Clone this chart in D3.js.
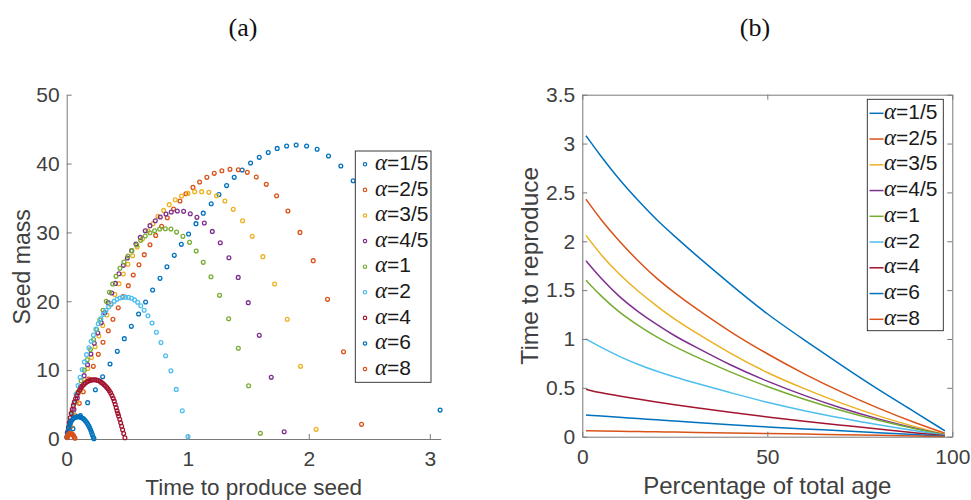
<!DOCTYPE html>
<html>
<head>
<meta charset="utf-8">
<script src="https://cdn.jsdelivr.net/npm/d3@7"></script>
<style>
body { margin: 0; background: #fff; }
svg { display: block; }
</style>
</head>
<body>
<svg id="chart" width="971" height="500"></svg>
<script>
// series labels and MATLAB default colours (order repeats after 7)
const alphaLabels = ["1/5", "2/5", "3/5", "4/5", "1", "2", "4", "6", "8"];
const seriesColors = ["#0072BD", "#D95319", "#EDB120", "#7E2F8E", "#77AC30", "#4DBEEE", "#A2142F", "#0072BD", "#D95319"];

// (a) time to produce seed vs seed mass, one list of [time, mass] per alpha
const seedA1_5 = [[0.052,1.5],[0.113,3.39],[0.173,5.28],[0.237,7.16],[0.297,9.05],[0.358,10.89],[0.418,12.73],[0.476,14.57],[0.534,16.36],[0.594,18.15],[0.652,19.89],[0.710,21.64],[0.771,23.33],[0.828,25.0],[0.889,26.67],[0.947,28.27],[1.007,29.77],[1.068,31.27],[1.128,32.8],[1.194,34.17],[1.258,35.5],[1.321,36.8],[1.384,38.0],[1.450,39.07],[1.519,40.08],[1.591,40.9],[1.665,41.6],[1.739,42.2],[1.817,42.55],[1.896,42.7],[1.982,42.55],[2.069,42.07],[2.163,41.1],[2.265,39.65],[2.367,37.5],[3.085,4.2]];
const seedA2_5 = [[0.005,0.3],[0.033,1.8],[0.069,3.39],[0.104,5.18],[0.137,6.87],[0.181,8.71],[0.220,10.55],[0.261,12.29],[0.300,14.04],[0.344,15.73],[0.382,17.38],[0.426,19.07],[0.465,20.7],[0.509,22.27],[0.550,23.81],[0.597,25.31],[0.641,26.77],[0.688,28.22],[0.735,29.57],[0.784,30.88],[0.831,32.14],[0.883,33.4],[0.936,34.56],[0.985,35.62],[1.043,36.54],[1.098,37.32],[1.158,38.0],[1.219,38.58],[1.282,38.96],[1.349,39.16],[1.418,39.11],[1.492,38.72],[1.566,38.04],[1.649,36.98],[1.734,35.33],[1.828,33.1],[1.927,30.0],[2.037,25.9],[2.155,20.28],[2.287,12.68],[2.436,2.13]];
const seedA3_5 = [[0.003,0.35],[0.029,2.05],[0.057,3.75],[0.086,5.4],[0.115,7.05],[0.144,8.65],[0.174,10.25],[0.204,11.85],[0.235,13.4],[0.266,14.95],[0.298,16.5],[0.331,18.0],[0.364,19.5],[0.398,21.0],[0.432,22.56],[0.468,23.96],[0.506,25.36],[0.545,26.62],[0.583,27.88],[0.627,29.09],[0.671,30.25],[0.713,31.27],[0.754,32.33],[0.801,33.2],[0.847,34.03],[0.897,34.75],[0.949,35.28],[1.002,35.67],[1.057,35.92],[1.115,35.92],[1.175,35.82],[1.238,35.33],[1.307,34.56],[1.376,33.35],[1.453,31.7],[1.533,29.43],[1.621,26.48],[1.718,22.5],[1.822,17.38],[1.932,10.55],[2.061,1.4]];
const seedA4_5 = [[0.005,0.9],[0.032,2.6],[0.060,4.3],[0.088,5.95],[0.116,7.6],[0.144,9.2],[0.172,10.8],[0.200,12.35],[0.228,13.9],[0.257,15.4],[0.285,16.9],[0.314,18.35],[0.343,19.8],[0.372,21.2],[0.402,22.6],[0.432,24.0],[0.468,25.22],[0.501,26.28],[0.536,27.35],[0.572,28.32],[0.608,29.28],[0.649,30.25],[0.688,30.98],[0.732,31.7],[0.773,32.24],[0.820,32.67],[0.864,32.96],[0.914,33.11],[0.966,33.06],[1.021,32.72],[1.076,32.19],[1.137,31.37],[1.203,30.15],[1.269,28.5],[1.340,26.33],[1.417,23.47],[1.500,19.8],[1.591,15.05],[1.690,8.95],[1.797,1.06]];
const seedA1 = [[0.018,1.9],[0.043,3.6],[0.068,5.25],[0.094,6.85],[0.119,8.45],[0.145,10.0],[0.170,11.5],[0.196,13.0],[0.222,14.45],[0.248,15.9],[0.274,17.3],[0.300,18.7],[0.327,20.0],[0.353,21.3],[0.380,22.5],[0.407,23.62],[0.440,24.78],[0.473,25.7],[0.506,26.57],[0.539,27.35],[0.578,28.17],[0.611,28.85],[0.649,29.48],[0.688,29.96],[0.726,30.25],[0.768,30.49],[0.815,30.54],[0.861,30.49],[0.908,30.05],[0.960,29.43],[1.015,28.56],[1.070,27.3],[1.128,25.65],[1.192,23.57],[1.263,20.86],[1.338,17.47],[1.418,13.17],[1.503,7.74],[1.600,0.82]];
const seedA2 = [[0.015,1.0],[0.030,2.45],[0.045,3.85],[0.061,5.2],[0.077,6.5],[0.094,7.75],[0.111,8.95],[0.128,10.1],[0.146,11.2],[0.164,12.25],[0.183,13.25],[0.202,14.2],[0.221,15.1],[0.241,15.95],[0.261,16.75],[0.282,17.45],[0.303,18.1],[0.325,18.7],[0.347,19.2],[0.369,19.65],[0.392,20.0],[0.415,20.28],[0.439,20.47],[0.463,20.57],[0.487,20.6],[0.511,20.57],[0.536,20.45],[0.561,20.2],[0.586,19.85],[0.612,19.35],[0.640,18.7],[0.671,17.9],[0.705,16.85],[0.741,15.5],[0.779,14.0],[0.817,12.1],[0.861,9.9],[0.905,7.2],[0.955,4.1],[1.002,0.34]];
const seedA4 = [[0.002,0.3],[0.007,0.92],[0.014,1.68],[0.021,2.4],[0.029,3.08],[0.037,3.72],[0.046,4.32],[0.055,4.88],[0.064,5.4],[0.074,5.88],[0.084,6.32],[0.095,6.72],[0.106,7.08],[0.117,7.4],[0.129,7.68],[0.141,7.92],[0.154,8.12],[0.167,8.3],[0.180,8.42],[0.193,8.52],[0.207,8.58],[0.220,8.6],[0.234,8.6],[0.248,8.55],[0.261,8.5],[0.274,8.38],[0.286,8.22],[0.297,8.1],[0.308,7.92],[0.319,7.72],[0.330,7.5],[0.341,7.3],[0.352,7.0],[0.363,6.7],[0.374,6.3],[0.384,5.9],[0.393,5.5],[0.401,5.03],[0.409,4.55],[0.416,4.1],[0.423,3.7],[0.429,3.34],[0.438,2.85],[0.446,2.37],[0.454,1.85],[0.462,1.35],[0.471,0.8],[0.481,0.19]];
const seedA6 = [[0.002,0.25],[0.006,0.75],[0.011,1.2],[0.017,1.62],[0.023,2.0],[0.030,2.33],[0.038,2.6],[0.047,2.83],[0.057,3.0],[0.067,3.12],[0.078,3.2],[0.089,3.24],[0.100,3.24],[0.111,3.2],[0.122,3.12],[0.133,3.0],[0.144,2.85],[0.154,2.66],[0.164,2.44],[0.173,2.19],[0.182,1.92],[0.190,1.62],[0.198,1.3],[0.205,0.97],[0.212,0.63],[0.219,0.3],[0.225,0.05]];
const seedA8 = [[0.003,0.2],[0.008,0.45],[0.014,0.62],[0.021,0.74],[0.028,0.8],[0.035,0.8],[0.042,0.75],[0.049,0.65],[0.056,0.5],[0.062,0.3],[0.068,0.1]];
const seedSeries = [seedA1_5, seedA2_5, seedA3_5, seedA4_5, seedA1, seedA2, seedA4, seedA6, seedA8];

// (b) time to reproduce against percentage of total age
const pctAge = [1, 5, 10, 15, 20, 25, 30, 40, 50, 60, 70, 80, 90, 98];
const reproA1_5 = [3.08, 2.87, 2.63, 2.42, 2.22, 2.05, 1.88, 1.56, 1.25, 0.99, 0.73, 0.48, 0.25, 0.06];
const reproA2_5 = [2.43, 2.22, 2.00, 1.80, 1.62, 1.47, 1.33, 1.07, 0.846, 0.64, 0.455, 0.29, 0.14, 0.035];
const reproA3_5 = [2.06, 1.86, 1.66, 1.49, 1.34, 1.20, 1.08, 0.85, 0.65, 0.49, 0.34, 0.21, 0.10, 0.025];
const reproA4_5 = [1.80, 1.62, 1.43, 1.28, 1.15, 1.03, 0.93, 0.73, 0.565, 0.42, 0.29, 0.18, 0.085, 0.02];
const reproA1 = [1.60, 1.44, 1.27, 1.14, 1.02, 0.92, 0.83, 0.66, 0.51, 0.38, 0.265, 0.165, 0.08, 0.018];
const reproA2 = [1.00, 0.915, 0.82, 0.74, 0.67, 0.61, 0.555, 0.45, 0.35, 0.265, 0.19, 0.12, 0.06, 0.015];
const reproA4 = [0.485, 0.448, 0.415, 0.385, 0.355, 0.327, 0.30, 0.25, 0.20, 0.158, 0.118, 0.078, 0.04, 0.01];
const reproA6 = [0.222, 0.212, 0.198, 0.186, 0.172, 0.16, 0.148, 0.123, 0.10, 0.08, 0.06, 0.04, 0.022, 0.005];
const reproA8 = [0.061, 0.058, 0.055, 0.052, 0.05, 0.047, 0.044, 0.038, 0.033, 0.027, 0.021, 0.014, 0.007, 0.002];
const reproSeries = [reproA1_5, reproA2_5, reproA3_5, reproA4_5, reproA1, reproA2, reproA4, reproA6, reproA8];

// ticks
const seedTimeTicks = [0, 1, 2, 3];
const seedMassTicks = [0, 10, 20, 30, 40, 50];
const pctTicks = [0, 50, 100];
const reproTicks = [0, 0.5, 1, 1.5, 2, 2.5, 3, 3.5];

const sans = "'Liberation Sans', Arial, Helvetica, sans-serif";
const serif = "'Liberation Serif', 'Times New Roman', serif";
const axisColor = "#7a7a7a";
const textColor = "#404040";

const svg = d3.select("#chart");

function styleAxis(g) {
  g.select(".domain").attr("stroke", axisColor).attr("stroke-width", 1);
  g.selectAll(".tick line").attr("stroke", axisColor).attr("stroke-width", 1);
  g.selectAll(".tick text").attr("fill", textColor)
    .style("font-family", sans).style("font-size", "21px");
}

// ---------- (a) ----------
const xL = d3.scaleLinear().domain([0, 3.09]).range([66.7, 440.7]);
const yL = d3.scaleLinear().domain([0, 50]).range([439, 94.7]);

svg.append("g")
  .attr("transform", `translate(0,${yL(0)})`)
  .call(d3.axisBottom(xL).tickValues(seedTimeTicks).tickFormat(d3.format("~g"))
    .tickSizeInner(-5).tickSizeOuter(0).tickPadding(12))
  .call(styleAxis);

svg.append("g")
  .attr("transform", `translate(${xL(0)},0)`)
  .call(d3.axisLeft(yL).tickValues(seedMassTicks).tickFormat(d3.format("~g"))
    .tickSizeInner(-5).tickSizeOuter(0).tickPadding(7))
  .call(styleAxis);

seedSeries.forEach((pts, i) => {
  svg.append("g")
    .selectAll("circle")
    .data(pts)
    .enter().append("circle")
      .attr("cx", d => xL(d[0]))
      .attr("cy", d => yL(d[1]))
      .attr("r", 1.9)
      .attr("fill", "none")
      .attr("stroke", seriesColors[i])
      .attr("stroke-width", 1.3);
});

svg.append("text")
  .attr("x", (xL.range()[0] + xL.range()[1]) / 2)
  .attr("y", 495)
  .attr("text-anchor", "middle")
  .attr("fill", textColor)
  .style("font-family", sans).style("font-size", "22.5px")
  .text("Time to produce seed");

svg.append("text")
  .attr("transform", `translate(30,${(yL.range()[0] + yL.range()[1]) / 2}) rotate(-90)`)
  .attr("text-anchor", "middle")
  .attr("fill", textColor)
  .style("font-family", sans).style("font-size", "23px")
  .text("Seed mass");

svg.append("text")
  .attr("x", 243).attr("y", 36)
  .attr("text-anchor", "middle")
  .attr("fill", "#111")
  .style("font-family", serif).style("font-size", "26px")
  .text("(a)");

// legend (a)
const legA = svg.append("g");
legA.append("rect")
  .attr("x", 355.3).attr("y", 151).attr("width", 75.7).attr("height", 231.3)
  .attr("fill", "#fff").attr("stroke", "#262626").attr("stroke-width", 0.9);
alphaLabels.forEach((lab, i) => {
  const y = 164.3 + i * 25.6;
  legA.append("circle")
    .attr("cx", 365).attr("cy", y).attr("r", 1.7)
    .attr("fill", "none").attr("stroke", seriesColors[i]).attr("stroke-width", 1.2);
  const t = legA.append("text")
    .attr("x", 375).attr("y", y).attr("dy", "0.35em")
    .attr("fill", "#1a1a1a");
  t.append("tspan").style("font-family", serif).style("font-style", "italic").style("font-size", "23px").text("α");
  t.append("tspan").style("font-family", sans).style("font-size", "21px").text("=" + lab);
});

// ---------- (b) ----------
const xR = d3.scaleLinear().domain([0, 100]).range([582.3, 952.3]);
const yR = d3.scaleLinear().domain([0, 3.5]).range([436.7, 94.7]);

const line = d3.line()
  .x(d => xR(d[0]))
  .y(d => yR(d[1]))
  .curve(d3.curveBasis);

reproSeries.forEach((vals, i) => {
  svg.append("path")
    .datum(pctAge.map((p, k) => [p, vals[k]]))
    .attr("fill", "none")
    .attr("stroke", seriesColors[i])
    .attr("stroke-width", 1.5)
    .attr("d", line);
});

svg.append("g")
  .attr("transform", `translate(0,${yR(0)})`)
  .call(d3.axisBottom(xR).tickValues(pctTicks).tickFormat(d3.format("~g"))
    .tickSizeInner(-5).tickSizeOuter(0).tickPadding(12))
  .call(styleAxis);
svg.append("g")
  .attr("transform", `translate(0,${yR(3.5)})`)
  .call(d3.axisTop(xR).tickValues(pctTicks).tickFormat("")
    .tickSizeInner(-5).tickSizeOuter(0))
  .call(styleAxis);
svg.append("g")
  .attr("transform", `translate(${xR(0)},0)`)
  .call(d3.axisLeft(yR).tickValues(reproTicks).tickFormat(d3.format("~g"))
    .tickSizeInner(-5).tickSizeOuter(0).tickPadding(7))
  .call(styleAxis);
svg.append("g")
  .attr("transform", `translate(${xR(100)},0)`)
  .call(d3.axisRight(yR).tickValues(reproTicks).tickFormat("")
    .tickSizeInner(-5).tickSizeOuter(0))
  .call(styleAxis);

svg.append("text")
  .attr("x", (xR.range()[0] + xR.range()[1]) / 2)
  .attr("y", 494)
  .attr("text-anchor", "middle")
  .attr("fill", textColor)
  .style("font-family", sans).style("font-size", "24px")
  .text("Percentage of total age");

svg.append("text")
  .attr("transform", `translate(538,${(yR.range()[0] + yR.range()[1]) / 2}) rotate(-90)`)
  .attr("text-anchor", "middle")
  .attr("fill", textColor)
  .style("font-family", sans).style("font-size", "24.5px")
  .text("Time to reproduce");

svg.append("text")
  .attr("x", 755).attr("y", 36)
  .attr("text-anchor", "middle")
  .attr("fill", "#111")
  .style("font-family", serif).style("font-size", "26px")
  .text("(b)");

// legend (b)
const legB = svg.append("g");
legB.append("rect")
  .attr("x", 867.3).attr("y", 99.3).attr("width", 76).attr("height", 231.4)
  .attr("fill", "#fff").attr("stroke", "#262626").attr("stroke-width", 0.9);
alphaLabels.forEach((lab, i) => {
  const y = 113.3 + i * 25.75;
  legB.append("line")
    .attr("x1", 869.5).attr("x2", 883.5).attr("y1", y).attr("y2", y)
    .attr("stroke", seriesColors[i]).attr("stroke-width", 1.5);
  const t = legB.append("text")
    .attr("x", 884).attr("y", y).attr("dy", "0.35em")
    .attr("fill", "#1a1a1a");
  t.append("tspan").style("font-family", serif).style("font-style", "italic").style("font-size", "23px").text("α");
  t.append("tspan").style("font-family", sans).style("font-size", "21px").text("=" + lab);
});
</script>
</body>
</html>
